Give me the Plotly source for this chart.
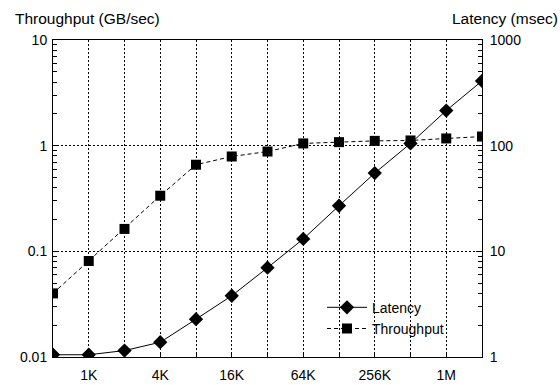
import math
import plotly.graph_objects as go

sizes = [512, 1024, 2048, 4096, 8192, 16384, 32768, 65536, 131072, 262144, 524288, 1048576, 2097152]
latency_ms = [1.05, 1.05, 1.15, 1.38, 2.28, 3.8, 7.0, 13.1, 27, 55, 105, 215, 410]
throughput_gbs = [0.040, 0.081, 0.163, 0.336, 0.66, 0.79, 0.88, 1.05, 1.08, 1.11, 1.12, 1.17, 1.22]
tick_vals = [1024, 2048, 4096, 8192, 16384, 32768, 65536, 131072, 262144, 524288, 1048576]
tick_text = ["1K", "", "4K", "", "16K", "", "64K", "", "256K", "", "1M"]
left_ticks = [0.01, 0.1, 1, 10]
right_ticks = [1, 10, 100, 1000]

FONT = "Liberation Sans, Arial, sans-serif"

def minor_vals(decades):
    return [m * d for d in decades[:-1] for m in range(2, 10)]

fig = go.Figure()
fig.add_trace(go.Scatter(
    x=sizes, y=latency_ms, name="Latency", yaxis="y2", mode="lines+markers",
    line=dict(color="black", width=1),
    marker=dict(symbol="diamond", size=11, color="black"),
))
fig.add_trace(go.Scatter(
    x=sizes, y=throughput_gbs, name="Throughput", yaxis="y", mode="lines+markers",
    line=dict(color="black", width=1, dash="4px,3px"),
    marker=dict(symbol="square", size=10, color="black"),
))
# empty helper traces so the minor-tick axes get drawn
fig.add_trace(go.Scatter(x=[None], y=[None], yaxis="y3", showlegend=False, hoverinfo="skip"))
fig.add_trace(go.Scatter(x=[None], y=[None], yaxis="y4", showlegend=False, hoverinfo="skip"))

common_minor = dict(ticks="inside", ticklen=4, tickcolor="black", showticklabels=False,
                    showgrid=False, showline=False, zeroline=False, type="log",
                    tickmode="array", anchor="x", overlaying="y")

fig.update_layout(
    width=560, height=385,
    margin=dict(l=53, r=78, t=40, b=28, autoexpand=False),
    paper_bgcolor="white", plot_bgcolor="white",
    font=dict(family=FONT, size=14, color="black"),
    showlegend=True,
    legend=dict(x=0.627, y=0.206, xanchor="left", yanchor="top",
                bgcolor="rgba(0,0,0,0)", font=dict(size=14),
                itemwidth=40, tracegroupgap=0),
    xaxis=dict(type="log", range=[math.log10(512), math.log10(2097152)],
               tickvals=tick_vals, ticktext=tick_text,
               ticks="inside", ticklen=5, tickcolor="black", ticklabelstandoff=5,
               showgrid=True, gridcolor="black", griddash="2px,2px", gridwidth=1,
               showline=True, linecolor="black", linewidth=1, mirror=True,
               zeroline=False),
    yaxis=dict(type="log", range=[-2, 1],
               tickmode="array", tickvals=left_ticks, ticktext=["0.01", "0.1", "1", "10"],
               ticks="inside", ticklen=6, tickcolor="black", ticklabelstandoff=2,
               showgrid=True, gridcolor="black", griddash="2px,2px", gridwidth=1,
               showline=True, linecolor="black", linewidth=1,
               zeroline=False),
    yaxis2=dict(type="log", range=[0, 3], overlaying="y", side="right",
                tickmode="array", tickvals=right_ticks, ticktext=["1", "10", "100", "1000"],
                ticks="inside", ticklen=6, tickcolor="black", ticklabelstandoff=4,
                showgrid=False,
                showline=True, linecolor="black", linewidth=1,
                zeroline=False),
    yaxis3=dict(range=[-2, 1], side="left", tickvals=minor_vals(left_ticks), **common_minor),
    yaxis4=dict(range=[0, 3], side="right", tickvals=minor_vals(right_ticks), **common_minor),
    annotations=[
        dict(text="Throughput (GB/sec)", xref="paper", yref="paper", x=-0.0933, y=1.0,
             xanchor="left", yanchor="bottom", yshift=11, showarrow=False, font=dict(size=15.5)),
        dict(text="Latency (msec)", xref="paper", yref="paper", x=1.1815, y=1.0,
             xanchor="right", yanchor="bottom", yshift=11, showarrow=False, font=dict(size=15.5)),
    ],
)

fig.write_html("out.html")
